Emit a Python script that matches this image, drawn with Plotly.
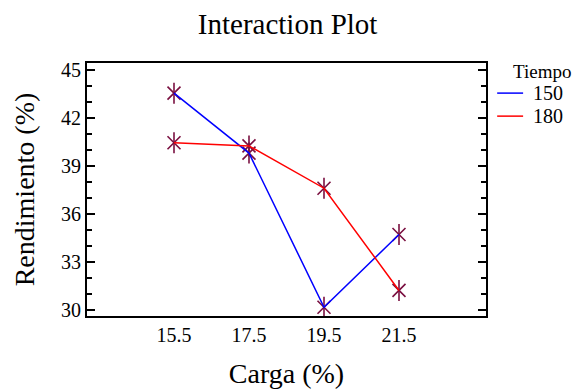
import plotly.graph_objects as go

carga = [15.5, 17.5, 19.5, 21.5]
rend_150 = [43.55, 39.8, 30.15, 34.7]
rend_180 = [40.45, 40.25, 37.6, 31.2]
series_names = ["150", "180"]
series_values = [rend_150, rend_180]
series_colors = ["#0000ff", "#ff0000"]
legend_title = "Tiempo"
marker_color = "#7a1040"
font_family = "Liberation Serif"

fig = go.Figure()

# asterisk markers built from a thin X plus a vertical stroke
for vals in series_values:
    for sym, sz in [("x-thin-open", 13), ("line-ns-open", 15)]:
        fig.add_trace(go.Scatter(x=carga, y=vals, mode="markers", showlegend=False,
                                 hoverinfo="skip",
                                 marker=dict(symbol=sym, color=marker_color, size=sz,
                                             line=dict(color=marker_color, width=1.6))))

for name, vals, col in zip(series_names, series_values, series_colors):
    fig.add_trace(go.Scatter(x=carga, y=vals, mode="lines", name=name, showlegend=False,
                             line=dict(color=col, width=1.5)))

# legend drawn by hand so entries sit close together
shapes = []
annotations = [dict(text=legend_title, x=1.063, y=0.968, xref="paper", yref="paper",
                    xanchor="left", yanchor="middle", showarrow=False,
                    font=dict(size=19, family=font_family))]
for i, (name, col) in enumerate(zip(series_names, series_colors)):
    yy = 0.881 - i * 0.091
    shapes.append(dict(type="line", xref="paper", yref="paper", x0=1.028, x1=1.093,
                       y0=yy, y1=yy, line=dict(color=col, width=1.5)))
    annotations.append(dict(text=name, x=1.113, y=yy, xref="paper", yref="paper",
                            xanchor="left", yanchor="middle", showarrow=False,
                            font=dict(size=20, family=font_family)))

fig.update_layout(
    width=581, height=392,
    margin=dict(l=87, r=95, t=63, b=76),
    paper_bgcolor="white", plot_bgcolor="white",
    font=dict(family=font_family, color="black"),
    title=dict(text="Interaction Plot", x=0.495, xanchor="center", y=0.94, yanchor="middle",
               font=dict(size=29, family=font_family)),
    showlegend=False,
    shapes=shapes,
    annotations=annotations,
)

fig.update_xaxes(range=[13.18, 23.82], tickvals=carga, ticktext=[str(c) for c in carga],
                 showgrid=False, zeroline=False, ticks="", showline=True, mirror=True,
                 linecolor="black", linewidth=2, automargin=False,
                 tickfont=dict(size=20, family=font_family),
                 title=dict(text="Carga (%)", font=dict(size=28, family=font_family),
                            standoff=18))
fig.update_yaxes(range=[29.6, 45.44], tickvals=[30, 33, 36, 39, 42, 45],
                 showgrid=False, zeroline=False, ticks="inside", ticklen=8, tickwidth=2,
                 tickcolor="black", showline=True, mirror="allticks",
                 linecolor="black", linewidth=2, automargin=False,
                 tickfont=dict(size=20, family=font_family),
                 minor=dict(dtick=1, tick0=30, ticks="inside", ticklen=5, tickwidth=1.5,
                            tickcolor="black", showgrid=False),
                 title=dict(text="Rendimiento (%)", font=dict(size=28, family=font_family),
                            standoff=18))

fig.write_html("out.html")
